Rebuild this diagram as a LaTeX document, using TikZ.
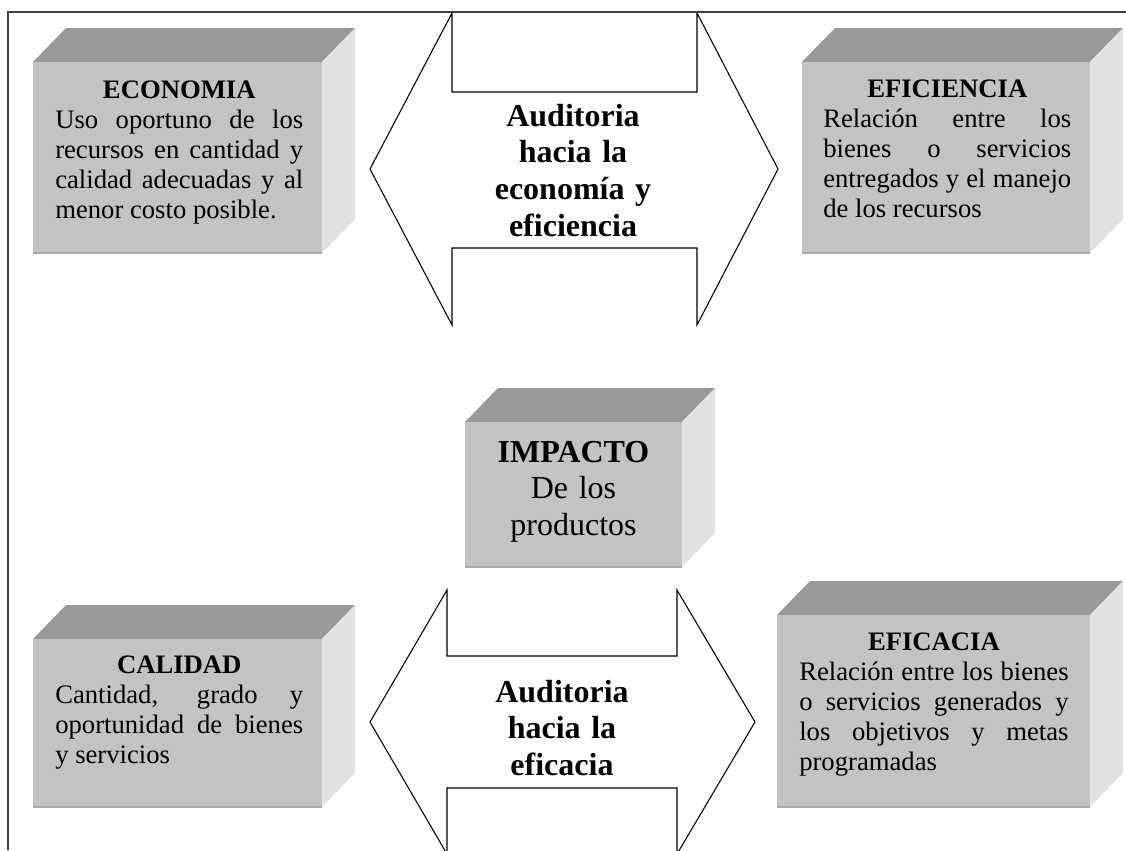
\documentclass[tikz,border=0pt]{standalone}
\usepackage{fontspec}
\setmainfont{Liberation Serif}
\definecolor{topgray}{RGB}{153,153,153}
\definecolor{frontgray}{RGB}{195,195,195}
\definecolor{sidegray}{RGB}{226,226,226}
\definecolor{edgegray}{RGB}{170,170,170}
\definecolor{framegray}{RGB}{64,64,64}
\tikzset{
  x=0.75pt, y=-0.75pt,
  frameline/.style={draw=framegray, line width=1.5pt},
  boxtop/.style={fill=topgray},
  boxside/.style={fill=sidegray},
  boxfront/.style={fill=frontgray},
  boxedge/.style={draw=edgegray, line width=1.5pt},
  dblarrow/.style={draw=black, line width=0.8pt, fill=white, line join=miter},
  boxtext/.style={anchor=base west, inner sep=0pt, align=justify,
    font=\fontsize{20}{22.6}\selectfont},
  arrowtext/.style={anchor=base, inner sep=0pt, align=center, text width=172pt,
    font=\bfseries\fontsize{24}{27.7}\selectfont},
  impacttext/.style={anchor=base, inner sep=0pt, align=center, text width=150pt,
    font=\fontsize{24}{27.4}\selectfont},
}
\newcommand\solidbox[4]{%
  \fill[boxtop] (#1,#2) -- (#1+33,#2-34) -- (#3+33,#2-34) -- (#3,#2) -- cycle;
  \fill[boxside] (#3,#2) -- (#3+33,#2-34) -- (#3+33,#4-34) -- (#3,#4) -- cycle;
  \fill[boxfront] (#1,#2) rectangle (#3,#4);
  \draw[boxedge] (#1,#4) -- (#3,#4);
}
\begin{document}
\begin{tikzpicture}
\useasboundingbox (0,0) rectangle (1126,850);
\clip (0,0) rectangle (1126,850);
\fill[white] (0,0) rectangle (1126,850);

% double arrows
\draw[dblarrow] (370,169) -- (452,13) -- (452,92) -- (697,92) -- (697,13)
  -- (778,169) -- (697,325) -- (697,248) -- (452,248) -- (452,325) -- cycle;
\draw[dblarrow] (370,722) -- (447,590) -- (447,656) -- (677,656) -- (677,590)
  -- (755,722) -- (677,854) -- (677,788) -- (447,788) -- (447,854) -- cycle;

\node[arrowtext] (arrA) at (573,126) {Auditoria\\hacia la\\economía y\\eficiencia};
\node[arrowtext] (arrB) at (562,702) {Auditoria\\hacia la\\eficacia};

% boxes
\solidbox{33}{62}{322}{253}
\solidbox{802}{62}{1090}{253}
\solidbox{465}{422}{682}{567}
\solidbox{33}{639}{322}{807}
\solidbox{777}{615}{1090}{807}

\node[boxtext, text width=186pt] (eco) at (55,98)
  {{\centering\bfseries ECONOMIA\par}Uso oportuno de los\linebreak recursos en cantidad y\linebreak calidad adecuadas y al\linebreak menor costo posible.};
\node[boxtext, text width=186pt] (efi) at (823,97)
  {{\centering\bfseries EFICIENCIA\par}Relación entre los\linebreak bienes o servicios\linebreak entregados y el manejo\linebreak de los recursos};
\node[impacttext] (imp) at (573.5,462)
  {\textbf{IMPACTO}\\De los\\productos};
\node[boxtext, text width=186pt] (cal) at (55,673)
  {{\centering\bfseries CALIDAD\par}Cantidad, grado y\linebreak oportunidad de bienes\linebreak y servicios};
\node[boxtext, text width=202pt] (efc) at (799,650)
  {{\centering\bfseries EFICACIA\par}Relación entre los bienes\linebreak o servicios generados y\linebreak los objetivos y metas\linebreak programadas};

% frame
\draw[frameline] (8,850) -- (8,12) -- (1126,12);
\end{tikzpicture}
\end{document}
